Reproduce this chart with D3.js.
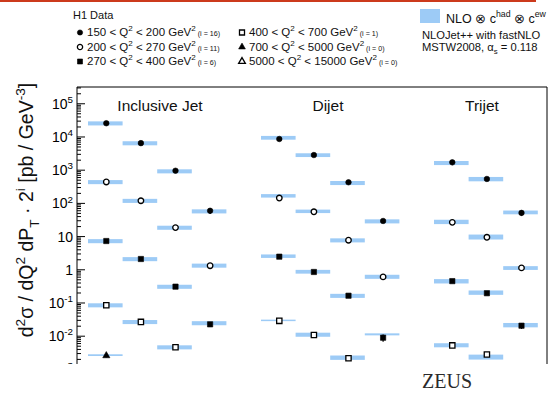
<!DOCTYPE html>
<html>
<head>
<meta charset="utf-8">
<script src="https://cdn.jsdelivr.net/npm/d3@7"></script>
<style>
  body { margin: 0; background: #fff; }
  svg { display: block; font-family: "Liberation Sans", Arial, sans-serif; }
</style>
</head>
<body>
<div id="container"></div>
<script>
/* CONSTANTS AND GLOBALS */
const width = 549;
const height = 393;
const frame = { left: 77, right: 547, top: 87, bottom: 363 };

const bandColor = "#9dcbf6";

/* DATA (values as plotted, i.e. already scaled by 2^i) */
const panels = ["Inclusive Jet", "Dijet", "Trijet"];
const binsPerPanel = [4, 4, 3];

const q2Labels = [
  ["150", "200", "16"], ["200", "270", "11"], ["270", "400", "6"],
  ["400", "700", "1"], ["700", "5000", "0"], ["5000", "15000", "0"]
];
const markerTypes = ["circleFill", "circleOpen", "squareFill", "squareOpen", "triFill", "triOpen"];

// data points per Q2 bin: inclusive jet (4), dijet (4), trijet (3)
const q2_150_200 = [2.5e4, 6.3e3, 930, 58, 8400, 2760, 417, 28.5, 1660, 525, 50];
const q2_200_270 = [426, 116, 18, 1.28, 140, 54, 7.5, 0.59, 26, 9.2, 1.1];
const q2_270_400 = [7.1, 2.04, 0.30, 0.022, 2.4, 0.83, 0.16, 0.0087, 0.44, 0.19, 0.020];
const q2_400_700 = [0.083, 0.026, 0.0045, null, 0.028, 0.0105, 0.0021, null, 0.0051, 0.0027, null];
const q2_700_5000 = [0.0025, null, null, null, null, null, null, null, null, null, null];
const q2_5000_15000 = [null, null, null, null, null, null, null, null, null, null, null];

// NLO band centres
const nlo_150_200 = [2.5e4, 6.3e3, 900, 56, 9200, 2760, 400, 28, 1600, 525, 52];
const nlo_200_270 = [426, 116, 18, 1.3, 164, 56, 7.5, 0.60, 27, 9.5, 1.1];
const nlo_270_400 = [7.1, 2.04, 0.30, 0.024, 2.5, 0.85, 0.16, 0.011, 0.44, 0.20, 0.021];
const nlo_400_700 = [0.083, 0.026, 0.0045, null, 0.029, 0.0108, 0.0022, null, 0.0052, 0.0023, null];
const nlo_700_5000 = [0.0026, null, null, null, null, null, null, null, null, null, null];
const nlo_5000_15000 = [null, null, null, null, null, null, null, null, null, null, null];

// relative NLO uncertainty (band half height)
const nloUnc = [
  [0.14, 0.14, 0.14, 0.14, 0.13, 0.13, 0.14, 0.14, 0.14, 0.15, 0.13],
  [0.14, 0.14, 0.14, 0.14, 0.12, 0.12, 0.14, 0.14, 0.15, 0.17, 0.13],
  [0.14, 0.14, 0.14, 0.14, 0.12, 0.13, 0.14, 0.07, 0.15, 0.15, 0.15],
  [0.14, 0.14, 0.14, 0.14, 0.05, 0.14, 0.15, 0.14, 0.14, 0.17, 0.14],
  [0.06, 0.1, 0.1, 0.1, 0.1, 0.1, 0.1, 0.1, 0.1, 0.1, 0.1],
  [0.1, 0.1, 0.1, 0.1, 0.1, 0.1, 0.1, 0.1, 0.1, 0.1, 0.1]
];
// relative data uncertainty
const dataErr = [
  [0.03, 0.03, 0.04, 0.2, 0.03, 0.03, 0.04, 0.12, 0.04, 0.05, 0.18],
  [0.04, 0.04, 0.05, 0.1, 0.04, 0.04, 0.05, 0.1, 0.05, 0.06, 0.1],
  [0.05, 0.05, 0.06, 0.15, 0.05, 0.06, 0.08, 0.25, 0.06, 0.07, 0.2],
  [0.1, 0.1, 0.1, 0.1, 0.1, 0.1, 0.12, 0.1, 0.1, 0.15, 0.1],
  [0.1, 0.1, 0.1, 0.1, 0.1, 0.1, 0.1, 0.1, 0.1, 0.1, 0.1],
  [0.1, 0.1, 0.1, 0.1, 0.1, 0.1, 0.1, 0.1, 0.1, 0.1, 0.1]
];

const seriesData = [q2_150_200, q2_200_270, q2_270_400, q2_400_700, q2_700_5000, q2_5000_15000];
const seriesNlo = [nlo_150_200, nlo_200_270, nlo_270_400, nlo_400_700, nlo_700_5000, nlo_5000_15000];

const yTicks = [1e-3, 1e-2, 1e-1, 1, 10, 1e2, 1e3, 1e4, 1e5];

/* SCALES */
// each panel gets 5 slots: its bins plus one empty gap
const slotKeys = panels.flatMap(p => d3.range(5).map(b => p + "|" + b));
const xScale = d3.scaleBand()
  .domain(slotKeys)
  .range([88, 88 + 15 * 34.6]);

const yScale = d3.scaleLog()
  .domain([Math.pow(10, -3.5), Math.pow(10, 5.49)])
  .range([385.5, frame.top]);

// flat list of points
const points = [];
seriesData.forEach((vals, s) => {
  let k = 0;
  panels.forEach((p, pi) => {
    for (let b = 0; b < binsPerPanel[pi]; b++, k++) {
      points.push({
        series: s, key: p + "|" + b,
        value: vals[k], nlo: seriesNlo[s][k],
        unc: nloUnc[s][k], err: dataErr[s][k]
      });
    }
  });
});

/* HELPERS */
function rich(text, parts, fs) {
  let cur = 0;
  parts.forEach(([t, k]) => {
    const shift = k === "sup" ? -0.42 * fs : k === "sub" ? 0.3 * fs : 0;
    const size = k === "n" ? fs : k === "small" ? 0.62 * fs : 0.7 * fs;
    text.append("tspan").attr("dy", shift - cur).attr("font-size", size).text(t);
    cur = shift;
  });
  return text;
}

function marker(g, type, x, y, scale = 1) {
  const sym = type.startsWith("circle") ? d3.symbolCircle
    : type.startsWith("square") ? d3.symbolSquare : d3.symbolTriangle;
  const size = type.startsWith("circle") ? 24 : type.startsWith("square") ? 28 : 22;
  const open = type.endsWith("Open");
  g.append("path")
    .attr("d", d3.symbol(sym, size * scale)())
    .attr("transform", `translate(${x},${y})`)
    .attr("fill", open ? "#fff" : "#000")
    .attr("stroke", "#000")
    .attr("stroke-width", open ? 1.3 : 0.6);
}

/* SVG */
const svg = d3.select("#container")
  .append("svg")
  .attr("width", width)
  .attr("height", height);

// top rule
svg.append("line")
  .attr("x1", 0).attr("x2", 536)
  .attr("y1", 1).attr("y2", 1)
  .attr("stroke", "#cc3a1c")
  .attr("stroke-width", 2);

svg.append("clipPath").attr("id", "plotclip")
  .append("rect")
  .attr("x", frame.left).attr("y", frame.top)
  .attr("width", frame.right - frame.left).attr("height", 400 - frame.top);

const plot = svg.append("g").attr("clip-path", "url(#plotclip)");

// NLO bands
plot.selectAll("rect.band")
  .data(points.filter(d => d.nlo != null))
  .join("rect")
  .attr("class", "band")
  .attr("x", d => xScale(d.key))
  .attr("width", xScale.bandwidth())
  .attr("y", d => yScale(d.nlo * (1 + d.unc)))
  .attr("height", d => Math.max(1.5, yScale(d.nlo * (1 - d.unc)) - yScale(d.nlo * (1 + d.unc))))
  .attr("fill", bandColor);

// error bars
plot.selectAll("line.err")
  .data(points.filter(d => d.value != null))
  .join("line")
  .attr("class", "err")
  .attr("x1", d => xScale(d.key) + xScale.bandwidth() / 2 + 1)
  .attr("x2", d => xScale(d.key) + xScale.bandwidth() / 2 + 1)
  .attr("y1", d => yScale(d.value * (1 + d.err)))
  .attr("y2", d => yScale(d.value * (1 - d.err)))
  .attr("stroke", "#000")
  .attr("stroke-width", 1.2);

// markers
points.filter(d => d.value != null).forEach(d => {
  marker(plot, markerTypes[d.series], xScale(d.key) + xScale.bandwidth() / 2 + 1, yScale(d.value));
});

// frame
svg.append("path")
  .attr("d", `M${frame.left},400V${frame.top}H${frame.right}V400`)
  .attr("fill", "none")
  .attr("stroke", "#000")
  .attr("stroke-width", 1);

// y axis: minor ticks
const minorTicks = [];
for (let e = -4; e <= 5; e++) for (let m = 2; m <= 9; m++) minorTicks.push(m * Math.pow(10, e));
svg.append("g")
  .attr("transform", `translate(${frame.left},0)`)
  .call(d3.axisLeft(yScale).tickValues(minorTicks.filter(v => yScale(v) > frame.top)).tickSize(-4).tickFormat(""))
  .call(g => g.select(".domain").remove())
  .call(g => g.selectAll("line").attr("stroke-width", 1));

// y axis: major ticks with labels
const yAxis = svg.append("g")
  .attr("transform", `translate(${frame.left},0)`)
  .call(d3.axisLeft(yScale).tickValues(yTicks).tickSize(-8).tickPadding(4).tickFormat(""))
  .call(g => g.select(".domain").remove())
  .call(g => g.selectAll("line").attr("stroke-width", 1));

yAxis.selectAll(".tick text")
  .attr("font-size", 14)
  .attr("fill", "#000")
  .attr("dy", null)
  .attr("y", 5)
  .each(function (v) {
    const e = Math.round(Math.log10(v));
    const t = d3.select(this);
    if (e === 0) rich(t, [["1", "n"]], 14);
    else if (e === 1) rich(t, [["10", "n"]], 14);
    else rich(t, [["10", "n"], [String(e), "sup"]], 14);
  });

// panel titles
const titleX = [160, 328, 482];
panels.forEach((p, i) => {
  svg.append("text")
    .attr("x", titleX[i]).attr("y", 111)
    .attr("text-anchor", "middle")
    .attr("font-size", 15.5)
    .attr("fill", "#111")
    .text(p);
});

// white-out below the cut
svg.append("rect")
  .attr("x", 0).attr("y", 364)
  .attr("width", width).attr("height", height - 364)
  .attr("fill", "#fff");

// y axis title
const yTitle = svg.append("text")
  .attr("transform", "translate(33,210) rotate(-90)")
  .attr("text-anchor", "middle")
  .attr("font-size", 19.5)
  .attr("fill", "#111");
rich(yTitle, [["d", "n"], ["2", "sup"], ["\u03c3 / dQ", "n"], ["2", "sup"], [" dP", "n"], ["T", "sub"],
  ["  \u00b7 2", "n"], ["i", "sup"], [" [pb / GeV", "n"], ["-3", "sup"], ["]", "n"]], 19.5);

/* LEGEND */
svg.append("text")
  .attr("x", 73).attr("y", 19)
  .attr("font-size", 11)
  .attr("fill", "#111")
  .text("H1 Data");

const legendPos = [[80, 32.5], [80, 47], [80, 61.5], [242, 32.5], [242, 47], [242, 61.5]];
q2Labels.forEach((q, i) => {
  const [lx, ly] = legendPos[i];
  marker(svg, markerTypes[i], lx, ly, 0.9);
  const t = svg.append("text")
    .attr("x", lx + 7).attr("y", ly + 3.8)
    .attr("font-size", 11.5)
    .attr("fill", "#111");
  rich(t, [[q[0] + " < Q", "n"], ["2", "sup"], [" < " + q[1] + " GeV", "n"], ["2", "sup"],
    [" (i = " + q[2] + ")", "small"]], 11.5);
});

svg.append("rect")
  .attr("x", 420).attr("y", 9)
  .attr("width", 20).attr("height", 14)
  .attr("fill", bandColor);

const nloText = svg.append("text")
  .attr("x", 446).attr("y", 22.5)
  .attr("font-size", 12.5)
  .attr("fill", "#111");
rich(nloText, [["NLO \u2297 c", "n"], ["had", "sup"], [" \u2297 c", "n"], ["ew", "sup"]], 12.5);

svg.append("text")
  .attr("x", 422).attr("y", 39)
  .attr("font-size", 11.2)
  .attr("fill", "#111")
  .text("NLOJet++ with fastNLO");

const mstw = svg.append("text")
  .attr("x", 422).attr("y", 50.5)
  .attr("font-size", 11.2)
  .attr("fill", "#111");
rich(mstw, [["MSTW2008, \u03b1", "n"], ["s", "sub"], [" = 0.118", "n"]], 11.2);

// ZEUS mark
svg.append("text")
  .attr("x", 447).attr("y", 388)
  .attr("text-anchor", "middle")
  .attr("font-family", "'Liberation Serif', 'DejaVu Serif', serif")
  .attr("font-size", 20)
  .attr("fill", "#2a2a2a")
  .text("ZEUS");
</script>
</body>
</html>
